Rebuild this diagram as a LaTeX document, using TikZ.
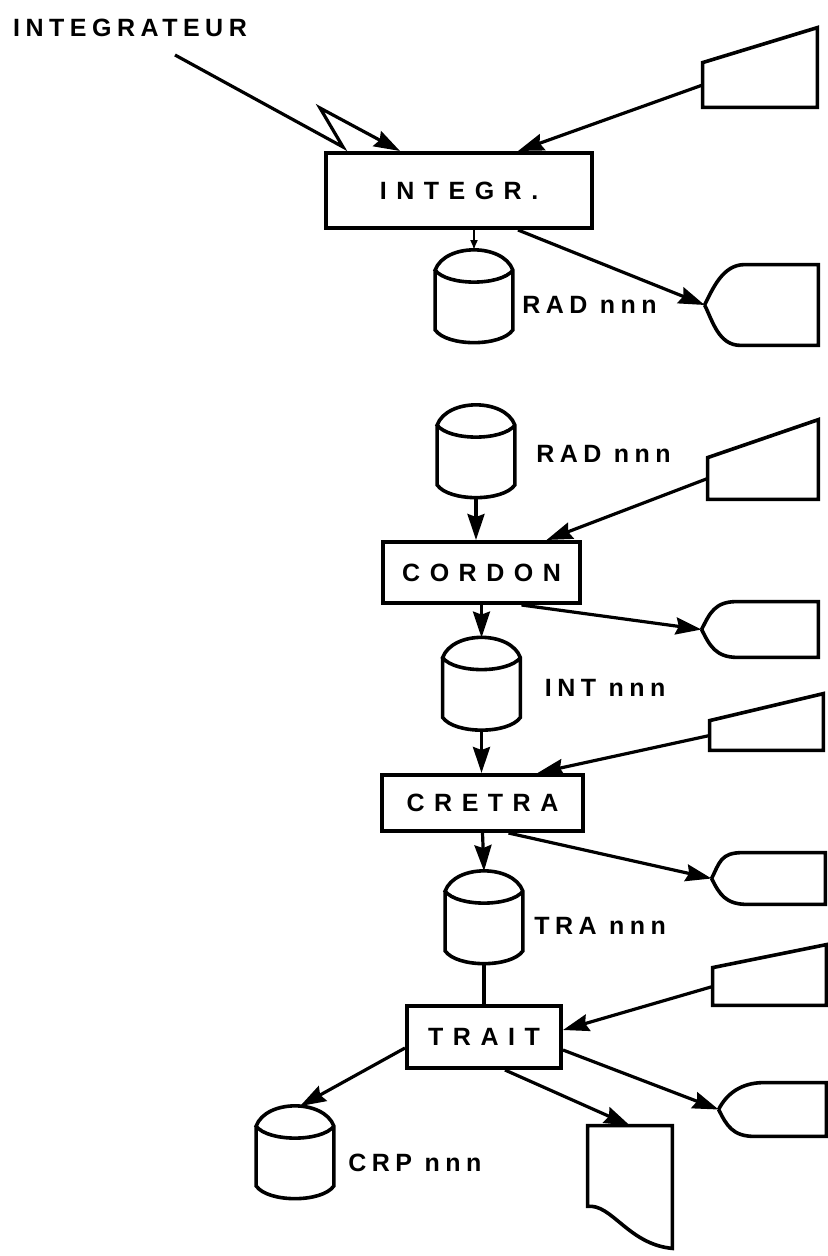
\documentclass[tikz,border=0pt]{standalone}
\usepackage{fontspec}
\usepackage{tikz}
\usetikzlibrary{positioning, arrows.meta, calc}
\newfontfamily\boxfont{Liberation Sans}[LetterSpace=38]
\newfontfamily\lblfont{Liberation Sans}[LetterSpace=22]

\tikzset{
  outline/.style={line width=1.8pt},
  flow/.style={line width=1.6pt, -{Stealth[length=13pt, width=8.5pt, inset=1.5pt]}},
  proc/.style={draw, line width=2pt, inner sep=0pt,
    font=\boxfont\bfseries\fontsize{12.5}{15}\selectfont},
  file/.style={inner sep=0pt, font=\lblfont\bfseries\fontsize{12.5}{15}\selectfont},
  % drum for a disk file
  disk/.style={minimum width=38.5pt, minimum height=46pt, inner sep=0pt,
    append after command={\pgfextra{\let\shp\tikzlastnode
      \draw[outline] ($(\shp.north west)+(0,20)$) -- ($(\shp.south west)+(0,-13)$)
        .. controls +(12,17) and +(-12,17) .. ($(\shp.south east)+(0,-13)$)
        -- ($(\shp.north east)+(0,20)$)
        .. controls +(-10,-27) and +(10,-27) .. ($(\shp.north west)+(0,20)$)
        .. controls +(12,16) and +(-12,16) .. ($(\shp.north east)+(0,20)$);}}},
  % keyboard entry, #1 = rise of the slanted top
  manual/.style={inner sep=0pt,
    append after command={\pgfextra{\let\shp\tikzlastnode
      \draw[outline] (\shp.south west) -- (\shp.north west)
        -- ($(\shp.north east)+(0,-#1)$) -- (\shp.south east) -- cycle;}}},
  % display, #1 = where the flat top starts
  screen/.style={inner sep=0pt,
    append after command={\pgfextra{\let\shp\tikzlastnode
      \draw[outline] (\shp.west) .. controls +(8,-16) and +(-22,0) .. ($(\shp.north west)+(#1,0)$)
        -- (\shp.north east) -- (\shp.south east) -- ($(\shp.south west)+(36,0)$)
        .. controls +(-22,0) and +(8,16) .. (\shp.west);}}},
  listing/.style={minimum width=42pt, minimum height=61pt, inner sep=0pt,
    append after command={\pgfextra{\let\shp\tikzlastnode
      \draw[outline] ($(\shp.south west)+(0,-42)$) -- (\shp.north west) -- (\shp.north east)
        -- (\shp.south east) .. controls +(-44,-4) and +(24,-3) .. ($(\shp.south west)+(0,-42)$) -- cycle;}}},
}

\begin{document}
\begin{tikzpicture}[x=0.5pt, y=-0.5pt]
    \useasboundingbox (0,0) rectangle (827,1256);

    % integration run
    \node[file] (integrateur) at (130,28) {INTEGRATEUR};
    \node[proc, minimum width=133pt, minimum height=37.5pt] (integ) at (459,190.5) {INTEGR.};
    \node[manual=35, minimum width=57pt, minimum height=22pt] (in1) at (760,85) {};
    \node[disk] (rad1) at (474,296.5) {};
    \node[file, anchor=west, right=4.5pt of rad1, yshift=-4pt] (rad1lbl) {RAD nnn};
    \node[screen=40, minimum width=56.5pt, minimum height=40pt] (scr1) at (761.5,305) {};

    \coordinate (zstart) at (175,55);
    \coordinate (zk1) at (343,147);
    \coordinate (zk2) at (320,108);
    \draw[flow] (zstart) -- (zk1) -- (zk2) -- ($(integ.north west)+(76,0)$);
    \draw[flow] (in1.west) -- ($(integ.north)+(59,0)$);
    \draw[line width=1.2pt, -{Latex[length=5pt, width=4pt]}] (rad1.north |- integ.south) -- (rad1.north);
    \draw[flow] ($(integ.south)+(59,0)$) -- (scr1.west);

    % processing chain
    \node[disk] (rad2) at (476,451.5) {};
    \node[file, anchor=west, right=10.5pt of rad2, yshift=-1pt] (rad2lbl) {RAD nnn};
    \node[manual=38, minimum width=55pt, minimum height=20.5pt] (in2) at (763,478.5) {};
    \node[proc, minimum width=98.5pt, minimum height=30.5pt] (cordon) at (481.5,572.5) {CORDON};
    \node[screen=35, minimum width=58pt, minimum height=27.5pt] (scr2) at (760,629.5) {};
    \node[disk] (int) at (481.5,684) {};
    \node[file, anchor=west, right=12pt of int, yshift=-2pt] (intlbl) {INT nnn};
    \node[manual=27, minimum width=56.5pt, minimum height=14.5pt] (in3) at (766.5,735.5) {};
    \node[proc, minimum width=100.5pt, minimum height=28pt] (cretra) at (482.5,803) {CRETRA};
    \node[screen=31, minimum width=56.5pt, minimum height=25.5pt] (scr3) at (768.5,878.5) {};
    \node[disk] (tra) at (484,917.5) {};
    \node[file, anchor=west, right=5.5pt of tra, yshift=-4pt] (tralbl) {TRA nnn};
    \node[manual=23, minimum width=56.5pt, minimum height=18.5pt] (in4) at (769.5,986.5) {};
    \node[proc, minimum width=77pt, minimum height=31pt] (trait) at (484,1037) {TRAIT};
    \node[screen=45, minimum width=53.5pt, minimum height=26.5pt] (scr4) at (772.5,1109.5) {};
    \node[disk] (crp) at (295,1152.5) {};
    \node[file, anchor=west, right=7pt of crp, yshift=-5pt] (crplbl) {CRP nnn};
    \node[listing] (list) at (630,1187) {};

    \draw[flow] (rad2.south) -- (rad2.south |- cordon.north);
    \draw[flow] (in2.west) -- ($(cordon.north)+(65,0)$);
    \draw[flow] ($(cordon.south)+(40,0)$) -- (scr2.west);
    \draw[flow] (cordon.south) -- (int.north);
    \draw[flow] (int.south) -- (int.south |- cretra.north);
    \draw[flow] (in3.west) -- ($(cretra.north)+(55,0)$);
    \draw[flow] ($(cretra.south)+(26,0)$) -- (scr3.west);
    \draw[flow] (cretra.south) -- (tra.north);
    \draw[outline] (tra.south) -- (trait.north);
    \draw[flow] (in4.west) -- ($(trait.east)+(0,-7)$);
    \draw[flow] ($(trait.east)+(0,13)$) -- (scr4.west);
    \draw[flow] ($(trait.west)+(0,11)$) -- ($(crp.north)+(5,0)$);
    \draw[flow] ($(trait.south)+(21,0)$) -- (list.north);
\end{tikzpicture}
\end{document}
